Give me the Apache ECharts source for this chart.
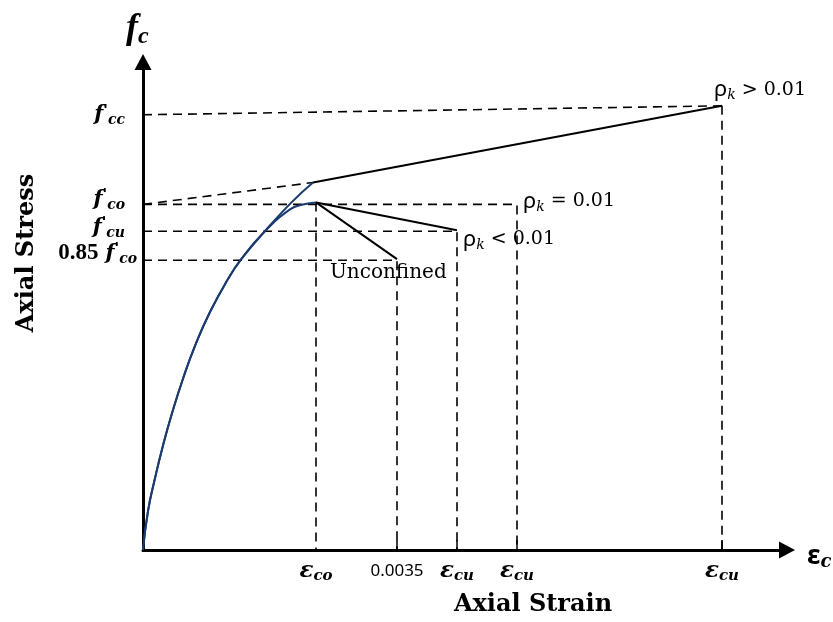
<!DOCTYPE html>
<html><head><meta charset="utf-8">
<script src="https://cdn.jsdelivr.net/npm/echarts@6/dist/echarts.min.js"></script>
<style>html,body{margin:0;padding:0;background:#fff}#c{width:833px;height:622px}</style>
</head><body><div id="c"></div>
<script>
// ---- data (schematic units: strain, stress) ----
const confinedRise = [[0,0],[5,39],[12,72],[20,105],[29.5,139],[40,172],[52,205],[67,239],[85,272],[97.5,291],[120,318],[148,348.5],[170,369]];
const unconfinedRise = [[0,0],[5,39],[12,72],[20,105],[29.5,139],[40,172],[52,205],[67,239],[85,272],[97.5,291],[120,318],[147,342],[160,347],[173,349]];
const confinedSoftening = [[170,369],[579,446]];
const partialSoftening = [[173,349],[314,321]];
const unconfinedSoftening = [[173,349],[254,292]];
const fccGuide = [[0,437],[579,446]];
const confinedExtension = [[0,347],[170,369]];
const fcoGuide = [[0,347],[374,347],[374,0]];
const fcuGuide = [[0,320],[314,320],[314,0]];
const f085Guide = [[0,291],[254,291],[254,0]];
const ecoGuide = [[173,349],[173,0]];
const ecuHighGuide = [[579,446],[579,0]];
const xTickValues = [173,254,314,374,579];
const xTickLabels = ['{e|ε}{s|co}','{n|0.0035}','{e|ε}{s|cu}','{e|ε}{s|cu}','{e|ε}{s|cu}'];
const yTickValues = [320,437,291,347];
const yTickLabels = ["{h| }{f0|f}{p0|'}{s0|cu}{g| }","{h| }{f1|f}{p1|'}{s1|cc}{g| }","{h| }{d2|0.85}{w| }{f2|f}{p2|'}{s2|co}","{h| }{f3|f}{p3|'}{s3|co}{g| }"];
const annotations = [
  {value:[579,446], text:'{r|ρ}{k|k}{t| > 0.01}', offset:[-8,-16]},
  {value:[374,347], text:'{r|ρ}{k|k}{t| = 0.01}', offset:[6,-3]},
  {value:[314,321], text:'{r|ρ}{k|k}{t| < 0.01}', offset:[6,9]},
  {value:[254,292], text:'{u|Unconfined}', offset:[-67,14]}
];

const BLUE = '#1b3b6f';
const BI = {fontFamily:'DejaVu Serif',fontStyle:'italic',fontWeight:'bold',color:'#000'};
const xRich = {
  e:Object.assign({fontSize:23,lineHeight:26},BI),
  s:Object.assign({fontSize:15,lineHeight:15,verticalAlign:'bottom'},BI),
  n:{fontFamily:'Noto Sans',fontSize:17,lineHeight:26,color:'#000'}
};
// vertical placement of each y label's glyphs (label-layout styling only)
const yPad = [13,9,16,14];
const yRich = {
  h:{fontSize:2,lineHeight:20,verticalAlign:'bottom',color:'rgba(0,0,0,0)'},
  g:{fontSize:2,width:12,lineHeight:1,verticalAlign:'bottom',color:'rgba(0,0,0,0)'},
  w:{fontSize:2,width:7,lineHeight:1,verticalAlign:'bottom',color:'rgba(0,0,0,0)'}
};
yPad.forEach(function(a,i){
  yRich['f'+i] = Object.assign({fontSize:21,lineHeight:1,height:2,verticalAlign:'bottom',padding:[0,0,a,0]},BI);
  yRich['p'+i] = Object.assign({fontSize:15,lineHeight:1,height:2,verticalAlign:'bottom',padding:[0,0,a+4,0]},BI);
  yRich['s'+i] = Object.assign({fontSize:14,lineHeight:1,height:2,verticalAlign:'bottom',padding:[0,0,a-6,0]},BI);
  yRich['d'+i] = {fontFamily:'Liberation Serif',fontWeight:'bold',fontSize:23,lineHeight:1,height:2,verticalAlign:'bottom',padding:[0,0,a,0],color:'#000'};
});
const annRich = {
  r:{fontFamily:'Noto Sans',fontSize:22,lineHeight:26,color:'#000'},
  k:{fontFamily:'DejaVu Serif',fontStyle:'italic',fontSize:14,lineHeight:14,verticalAlign:'bottom',color:'#000'},
  t:{fontFamily:'DejaVu Serif',fontSize:19,lineHeight:26,color:'#000'},
  u:{fontFamily:'DejaVu Serif',fontSize:20,lineHeight:26,color:'#000'}
};

function line(data, color, dashed, smooth){
  return {type:'line', data:data, symbol:'none', smooth:smooth||false, silent:true,
    lineStyle:{color:color, width: dashed?1.6:2, type: dashed?[9,6]:'solid'}, z: dashed?2:3};
}

const chart = echarts.init(document.getElementById('c'), null, {renderer:'canvas'});
chart.setOption({
  animation:false,
  backgroundColor:'#fff',
  title:[
    {text:'{f|f}{s|c}', left:121, top:4, textStyle:{rich:{
      f:{fontFamily:'Liberation Serif',fontStyle:'italic',fontSize:36,lineHeight:40,color:'#000'},
      s:{fontFamily:'Liberation Serif',fontStyle:'italic',fontSize:24,lineHeight:24,verticalAlign:'bottom',color:'#000'}}}},
    {text:'{e|ε}{s|c}', left:802, top:536, textStyle:{rich:{
      e:{fontFamily:'Noto Sans',fontSize:27,lineHeight:30,color:'#000'},
      s:{fontFamily:'DejaVu Serif',fontStyle:'italic',fontSize:18,lineHeight:18,verticalAlign:'bottom',color:'#000'}}}}
  ],
  grid:{left:143, right:46, top:62, bottom:70, containLabel:false},
  xAxis:{type:'value', min:0, max:644,
    name:'Axial Strain', nameLocation:'middle', nameGap:43,
    nameTextStyle:{fontFamily:'DejaVu Serif',fontWeight:'bold',fontSize:24,color:'#000',padding:[0,0,0,136]},
    axisLine:{show:true, lineStyle:{color:'#000',width:3}, symbol:['none','triangle'], symbolSize:[17,16]},
    axisTick:{show:true, inside:true, length:10, customValues:[254,314,374,579], lineStyle:{color:'#000',width:1.5}},
    axisLabel:{show:true, margin:8, hideOverlap:false, customValues:xTickValues,
      formatter:function(v){const i=xTickValues.indexOf(v);return i>=0?xTickLabels[i]:'';}, rich:xRich},
    splitLine:{show:false}},
  yAxis:{type:'value', min:0, max:490,
    name:'Axial Stress', nameLocation:'middle', nameGap:104,
    nameTextStyle:{fontFamily:'DejaVu Serif',fontWeight:'bold',fontSize:24,color:'#000',padding:[0,0,0,106]},
    axisLine:{show:true, lineStyle:{color:'#000',width:3}, symbol:['none','triangle'], symbolSize:[17,16]},
    axisTick:{show:false},
    axisLabel:{show:true, margin:6, hideOverlap:false, showMinLabel:true, showMaxLabel:true, customValues:yTickValues,
      formatter:function(v){const i=yTickValues.indexOf(v);return i>=0?yTickLabels[i]:'';}, rich:yRich},
    splitLine:{show:false}},
  series:[
    line(fccGuide,'#000',true), line(confinedExtension,'#000',true), line(fcoGuide,'#000',true),
    line(fcuGuide,'#000',true), line(f085Guide,'#000',true), line(ecoGuide,'#000',true), line(ecuHighGuide,'#000',true),
    line(confinedRise,BLUE,false,0.5), line(unconfinedRise,BLUE,false,0.5),
    line(confinedSoftening,'#000',false), line(partialSoftening,'#000',false), line(unconfinedSoftening,'#000',false),
    {type:'scatter', symbolSize:0, silent:true, z:5, itemStyle:{opacity:1},
      data: annotations.map(a=>({value:a.value, label:{show:true, color:'#000', position:'right', distance:0, offset:a.offset,
        formatter:a.text, rich:annRich}}))}
  ]
});
</script></body></html>
